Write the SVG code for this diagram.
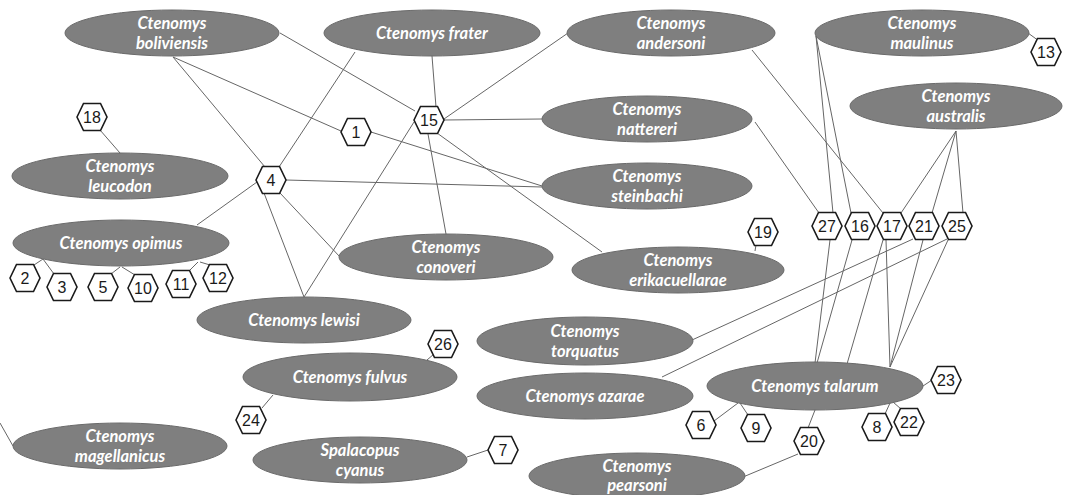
<svg xmlns="http://www.w3.org/2000/svg" xmlns:xlink="http://www.w3.org/1999/xlink" width="1065" height="495" viewBox="0 0 1065 495">
<style>
.sp ellipse{fill:#7f7f7f;stroke:#6a6a6a;stroke-width:1}
.sp text{fill:#ffffff;font-family:Lato,"Open Sans",sans-serif;font-style:italic;font-weight:bold;font-size:16.5px;text-anchor:middle}
.hx use{fill:#ffffff;stroke:#1a1a1a;stroke-width:1.6}
.hx text{fill:#1a1a1a;font-family:"Liberation Sans",Arial,sans-serif;font-size:16px;text-anchor:middle}
#connectors line{stroke:#666666;stroke-width:1;fill:none}
</style>
<defs>
<path id="hex" d="M-15,0 L-8.5,-13.5 L8.5,-13.5 L15,0 L8.5,13.5 L-8.5,13.5 Z"/>
</defs>
<rect width="1065" height="495" fill="#ffffff"/>
<g id="connectors">
<line x1="280" y1="33" x2="415" y2="111"/>
<line x1="173" y1="57" x2="341" y2="131"/>
<line x1="173" y1="57" x2="265" y2="167"/>
<line x1="355" y1="52" x2="279" y2="167"/>
<line x1="432" y1="56" x2="436" y2="107"/>
<line x1="568" y1="33" x2="444" y2="119"/>
<line x1="444" y1="120" x2="542" y2="119"/>
<line x1="414" y1="122" x2="304" y2="297"/>
<line x1="428" y1="134" x2="446" y2="234"/>
<line x1="437" y1="133" x2="602" y2="252"/>
<line x1="371" y1="132" x2="542" y2="186"/>
<line x1="286" y1="180" x2="542" y2="187"/>
<line x1="257" y1="182" x2="197" y2="225"/>
<line x1="264" y1="193" x2="304" y2="297"/>
<line x1="280" y1="193" x2="340" y2="257"/>
<line x1="100" y1="130" x2="120" y2="153"/>
<line x1="43" y1="259" x2="34" y2="265"/>
<line x1="43" y1="259" x2="54" y2="274"/>
<line x1="120" y1="267" x2="111" y2="274"/>
<line x1="122" y1="267" x2="135" y2="275"/>
<line x1="198" y1="262" x2="189" y2="271"/>
<line x1="200" y1="262" x2="210" y2="265"/>
<line x1="752" y1="50" x2="883" y2="213"/>
<line x1="755" y1="122" x2="819" y2="213"/>
<line x1="816" y1="36" x2="833" y2="213"/>
<line x1="816" y1="36" x2="851" y2="213"/>
<line x1="1028" y1="33" x2="1039" y2="41"/>
<line x1="956" y1="131" x2="901" y2="213"/>
<line x1="956" y1="131" x2="932" y2="213"/>
<line x1="956" y1="131" x2="963" y2="213"/>
<line x1="830" y1="240" x2="815" y2="363"/>
<line x1="852" y1="240" x2="817" y2="363"/>
<line x1="883" y1="240" x2="847" y2="364"/>
<line x1="886" y1="240" x2="890" y2="367"/>
<line x1="923" y1="240" x2="890" y2="367"/>
<line x1="948" y1="240" x2="890" y2="367"/>
<line x1="913" y1="239" x2="692" y2="340"/>
<line x1="947" y1="239" x2="662" y2="377"/>
<line x1="756" y1="245" x2="755" y2="251"/>
<line x1="738" y1="403" x2="714" y2="421"/>
<line x1="740" y1="403" x2="748" y2="415"/>
<line x1="815" y1="410" x2="808" y2="428"/>
<line x1="798" y1="454" x2="743" y2="477"/>
<line x1="890" y1="403" x2="885" y2="414"/>
<line x1="893" y1="402" x2="901" y2="409"/>
<line x1="923" y1="386" x2="932" y2="380"/>
<line x1="427" y1="360" x2="434" y2="354"/>
<line x1="273" y1="395" x2="262" y2="408"/>
<line x1="467" y1="457" x2="488" y2="450"/>
<line x1="0" y1="423" x2="13" y2="446"/>
</g>
<g id="boliviensis" class="sp"><ellipse cx="172" cy="33" rx="107" ry="23"/><text x="172" y="29">Ctenomys</text><text x="172" y="49">boliviensis</text></g>
<g id="frater" class="sp"><ellipse cx="432" cy="33" rx="108" ry="23"/><text x="432" y="39">Ctenomys frater</text></g>
<g id="andersoni" class="sp"><ellipse cx="671" cy="33" rx="104" ry="23"/><text x="671" y="29">Ctenomys</text><text x="671" y="49">andersoni</text></g>
<g id="maulinus" class="sp"><ellipse cx="922" cy="33" rx="107" ry="23"/><text x="922" y="29">Ctenomys</text><text x="922" y="49">maulinus</text></g>
<g id="australis" class="sp"><ellipse cx="956" cy="106" rx="106" ry="23"/><text x="956" y="102">Ctenomys</text><text x="956" y="122">australis</text></g>
<g id="nattereri" class="sp"><ellipse cx="647" cy="119" rx="105" ry="23"/><text x="647" y="115">Ctenomys</text><text x="647" y="135">nattereri</text></g>
<g id="steinbachi" class="sp"><ellipse cx="647" cy="186" rx="105" ry="23"/><text x="647" y="182">Ctenomys</text><text x="647" y="202">steinbachi</text></g>
<g id="leucodon" class="sp"><ellipse cx="120" cy="176" rx="108" ry="23"/><text x="120" y="172">Ctenomys</text><text x="120" y="192">leucodon</text></g>
<g id="opimus" class="sp"><ellipse cx="121" cy="243" rx="108" ry="23"/><text x="121" y="249">Ctenomys opimus</text></g>
<g id="conoveri" class="sp"><ellipse cx="446" cy="257" rx="107" ry="23"/><text x="446" y="253">Ctenomys</text><text x="446" y="273">conoveri</text></g>
<g id="erikacuellarae" class="sp"><ellipse cx="678" cy="270" rx="106" ry="23"/><text x="678" y="266">Ctenomys</text><text x="678" y="286">erikacuellarae</text></g>
<g id="lewisi" class="sp"><ellipse cx="304" cy="320" rx="107" ry="23"/><text x="304" y="326">Ctenomys lewisi</text></g>
<g id="torquatus" class="sp"><ellipse cx="585" cy="341" rx="108" ry="24"/><text x="585" y="337">Ctenomys</text><text x="585" y="357">torquatus</text></g>
<g id="fulvus" class="sp"><ellipse cx="350" cy="377" rx="107" ry="24"/><text x="350" y="383">Ctenomys fulvus</text></g>
<g id="azarae" class="sp"><ellipse cx="585" cy="396" rx="108" ry="23"/><text x="585" y="402">Ctenomys azarae</text></g>
<g id="talarum" class="sp"><ellipse cx="815" cy="386" rx="108" ry="24"/><text x="815" y="392">Ctenomys talarum</text></g>
<g id="magellanicus" class="sp"><ellipse cx="120" cy="446" rx="107" ry="23"/><text x="120" y="442">Ctenomys</text><text x="120" y="462">magellanicus</text></g>
<g id="spalacopus" class="sp"><ellipse cx="360" cy="460" rx="107" ry="23"/><text x="360" y="456">Spalacopus</text><text x="360" y="476">cyanus</text></g>
<g id="pearsoni" class="sp"><ellipse cx="637" cy="476" rx="108" ry="23"/><text x="637" y="472">Ctenomys</text><text x="637" y="491">pearsoni</text></g>
<g id="h1" class="hx"><use xlink:href="#hex" href="#hex" x="356" y="132"/><text x="356" y="138">1</text></g>
<g id="h2" class="hx"><use xlink:href="#hex" href="#hex" x="25" y="278"/><text x="25" y="284">2</text></g>
<g id="h3" class="hx"><use xlink:href="#hex" href="#hex" x="62" y="287"/><text x="62" y="293">3</text></g>
<g id="h4" class="hx"><use xlink:href="#hex" href="#hex" x="271" y="180"/><text x="271" y="186">4</text></g>
<g id="h5" class="hx"><use xlink:href="#hex" href="#hex" x="103" y="287"/><text x="103" y="293">5</text></g>
<g id="h6" class="hx"><use xlink:href="#hex" href="#hex" x="701" y="425"/><text x="701" y="431">6</text></g>
<g id="h7" class="hx"><use xlink:href="#hex" href="#hex" x="503" y="450"/><text x="503" y="456">7</text></g>
<g id="h8" class="hx"><use xlink:href="#hex" href="#hex" x="877" y="427"/><text x="877" y="433">8</text></g>
<g id="h9" class="hx"><use xlink:href="#hex" href="#hex" x="756" y="428"/><text x="756" y="434">9</text></g>
<g id="h10" class="hx"><use xlink:href="#hex" href="#hex" x="143" y="288"/><text x="143" y="294">10</text></g>
<g id="h11" class="hx"><use xlink:href="#hex" href="#hex" x="181" y="284"/><text x="181" y="290">11</text></g>
<g id="h12" class="hx"><use xlink:href="#hex" href="#hex" x="218" y="278"/><text x="218" y="284">12</text></g>
<g id="h13" class="hx"><use xlink:href="#hex" href="#hex" x="1046" y="52"/><text x="1046" y="58">13</text></g>
<g id="h15" class="hx"><use xlink:href="#hex" href="#hex" x="429" y="120"/><text x="429" y="126">15</text></g>
<g id="h16" class="hx"><use xlink:href="#hex" href="#hex" x="860" y="226"/><text x="860" y="232">16</text></g>
<g id="h17" class="hx"><use xlink:href="#hex" href="#hex" x="892" y="226"/><text x="892" y="232">17</text></g>
<g id="h18" class="hx"><use xlink:href="#hex" href="#hex" x="92" y="117"/><text x="92" y="123">18</text></g>
<g id="h19" class="hx"><use xlink:href="#hex" href="#hex" x="763" y="232"/><text x="763" y="238">19</text></g>
<g id="h20" class="hx"><use xlink:href="#hex" href="#hex" x="809" y="441"/><text x="809" y="447">20</text></g>
<g id="h21" class="hx"><use xlink:href="#hex" href="#hex" x="924" y="226"/><text x="924" y="232">21</text></g>
<g id="h22" class="hx"><use xlink:href="#hex" href="#hex" x="909" y="422"/><text x="909" y="428">22</text></g>
<g id="h23" class="hx"><use xlink:href="#hex" href="#hex" x="946" y="380"/><text x="946" y="386">23</text></g>
<g id="h24" class="hx"><use xlink:href="#hex" href="#hex" x="251" y="420"/><text x="251" y="426">24</text></g>
<g id="h25" class="hx"><use xlink:href="#hex" href="#hex" x="957" y="226"/><text x="957" y="232">25</text></g>
<g id="h26" class="hx"><use xlink:href="#hex" href="#hex" x="443" y="344"/><text x="443" y="350">26</text></g>
<g id="h27" class="hx"><use xlink:href="#hex" href="#hex" x="827" y="226"/><text x="827" y="232">27</text></g>
</svg>
